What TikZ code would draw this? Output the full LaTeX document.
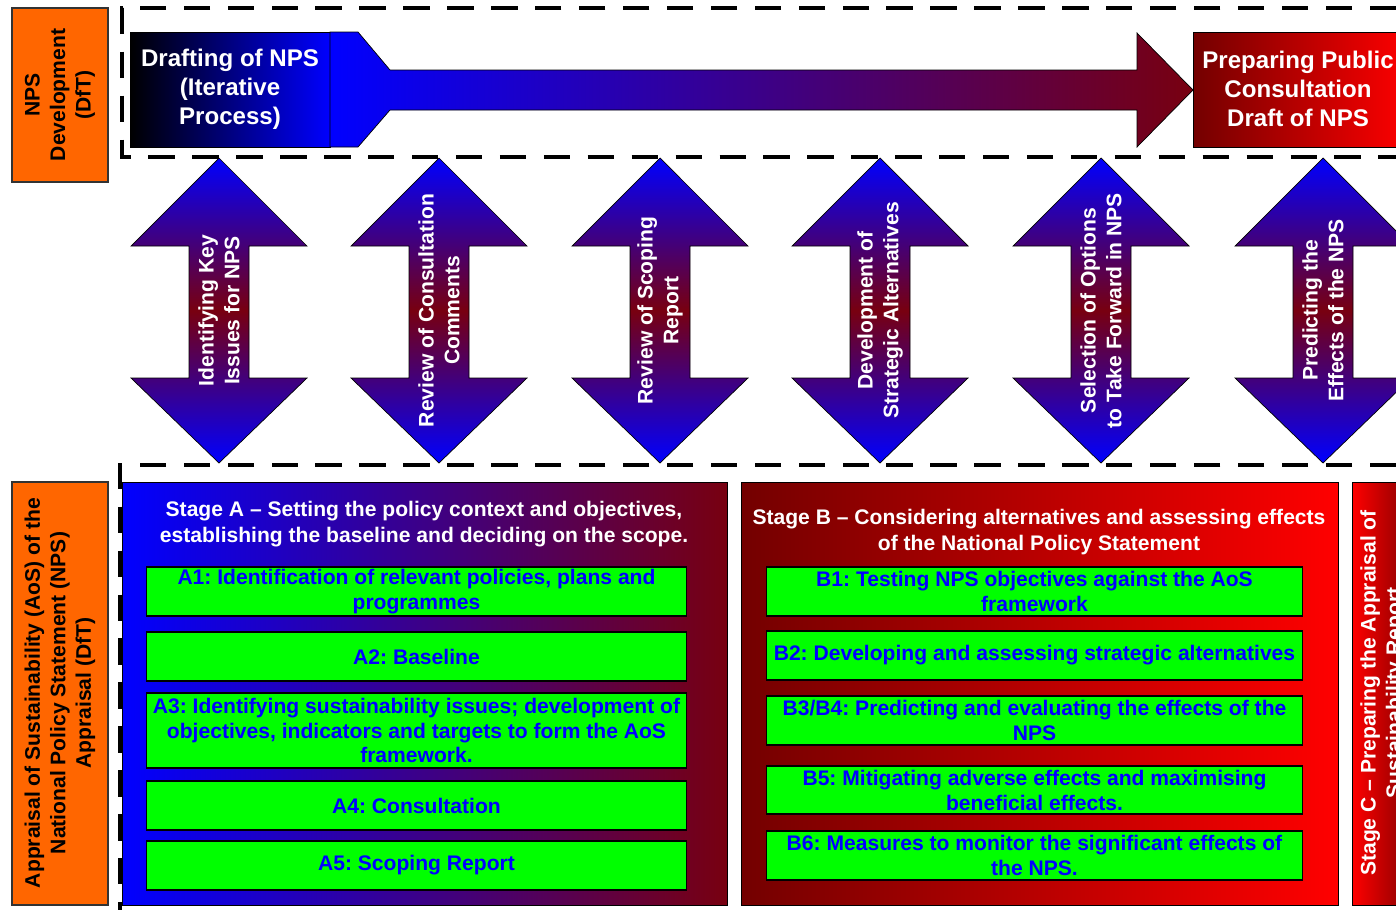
\documentclass[tikz,border=0pt]{standalone}
\usepackage{fontspec}
\setmainfont{Liberation Sans}
\usepackage{tikz}
\usetikzlibrary{positioning}
\frenchspacing
\definecolor{npsorange}{RGB}{255,102,0}
\definecolor{npsgreen}{RGB}{0,255,0}
\definecolor{npsblue}{RGB}{0,0,255}
\definecolor{npsmaroon}{RGB}{120,0,16}
\definecolor{npsdark}{RGB}{115,0,0}
\definecolor{npsred}{RGB}{255,0,0}
\tikzset{
  sidebox/.style={draw=black!80, fill=npsorange, semithick},
  sidetext/.style={rotate=90, align=center, font=\bfseries\fontsize{12}{14.5}\selectfont},
  frame/.style={draw, line width=2pt, dash pattern=on 15pt off 10pt},
  updown/.style={draw, thin, top color=npsblue, bottom color=npsblue, middle color=npsmaroon},
  arrowtext/.style={rotate=90, align=center, text=white, font=\bfseries\fontsize{12}{14.7}\selectfont},
  headtext/.style={align=center, text=white, font=\bfseries\fontsize{13.7}{16.5}\selectfont},
  stagetitle/.style={align=center, text=white, font=\bfseries\fontsize{12}{14.5}\selectfont},
  task/.style={draw, semithick, fill=npsgreen, align=center, text=npsblue, inner sep=0pt,
               font=\bfseries\fontsize{12}{14.2}\selectfont},
}

\begin{document}
\begin{tikzpicture}[x=0.02cm, y=-0.02cm]
  \useasboundingbox (0,0) rectangle (1396,910);
  \clip (0,0) rectangle (1396,910);

  % side labels
  \draw[sidebox] (12,8) rectangle (108,182);
  \node[sidetext] (dev) at (60,95) {NPS\\Development\\(DfT)};
  \draw[sidebox] (12,482) rectangle (108,905);
  \node[sidetext] (aos) at (60,693) {Appraisal of Sustainability (AoS) of the\\National Policy Statement (NPS)\\Appraisal (DfT)};

  % drafting arrow
  \draw[thin, left color=black, right color=npsblue] (130,32) rectangle (330,147);
  \draw[thin, left color=npsblue, right color=npsmaroon] (330,32) -- (358,32) -- (390,70) -- (1137,70)
    -- (1137,33) -- (1193,90) -- (1137,147) -- (1137,110) -- (390,110) -- (358,147) -- (330,147) -- cycle;
  \node[headtext] (draft) at (230,89) {Drafting of NPS\\(Iterative\\Process)};
  \draw[thin, left color=npsdark, right color=npsred] (1193,32) rectangle (1410,147);
  \node[headtext] (pcd) at (1298,89) {Preparing Public\\Consultation\\Draft of NPS};

  % links between the two processes
  \foreach \x/\txt [count=\i] in {219/{Identifying Key\\Issues for NPS},
      439/{Review of Consultation\\Comments}, 660/{Review of Scoping\\Report},
      880/{Development of\\Strategic Alternatives}, 1101/{Selection of Options\\to Take Forward in NPS},
      1323/{Predicting the\\Effects of the NPS}} {
    \draw[updown] (\x,158) -- (\x+88,246) -- (\x+30,246) -- (\x+30,378) -- (\x+88,378) -- (\x,463)
      -- (\x-88,378) -- (\x-30,378) -- (\x-30,246) -- (\x-88,246) -- cycle;
    \node[arrowtext] (link\i) at (\x,310.5) {\txt};
  }

  % stages
  \draw[thin, left color=npsblue, right color=npsmaroon] (122,482) rectangle (727,905);
  \node[stagetitle] (stageA) at (424,524) {Stage A – Setting the policy context and objectives,\\establishing the baseline and deciding on the scope.};
  \draw[thin, left color=npsdark, right color=npsred] (741,482) rectangle (1338,905);
  \node[stagetitle] (stageB) at (1039,532) {Stage B – Considering alternatives and assessing effects\\of the National Policy Statement};
  \draw[thin, left color=npsred, right color=npsdark] (1352,482) rectangle (1420,905);
  \node[stagetitle, rotate=90] (stageC) at (1383,693) {Stage C – Preparing the Appraisal of\\Sustainability Report};

  \foreach \yt/\yb/\txt [count=\i] in {567/616/{A1: Identification of relevant policies, plans and\\programmes},
      632/681/{A2: Baseline},
      693/768/{A3: Identifying sustainability issues; development of\\objectives, indicators and targets to form the AoS\\framework.},
      781/830/{A4: Consultation}, 841/890/{A5: Scoping Report}} {
    \node[task, minimum width=10.82cm, minimum height={(\yb-\yt)*0.02cm}] (a\i) at (416.5,{(\yt+\yb)/2}) {\txt};
  }
  \foreach \yt/\yb/\txt [count=\i] in {567/616/{B1: Testing NPS objectives against the AoS\\framework},
      631/680/{B2: Developing and assessing strategic alternatives},
      696/745/{B3/B4: Predicting and evaluating the effects of the\\NPS},
      766/814/{B5: Mitigating adverse effects and maximising\\beneficial effects.},
      831/880/{B6: Measures to monitor the significant effects of\\the NPS.}} {
    \node[task, minimum width=10.74cm, minimum height={(\yb-\yt)*0.02cm}] (b\i) at (1034.5,{(\yt+\yb)/2}) {\txt};
  }

  % dashed frames
  \draw[frame] (1396,8) -- (122,8) -- (122,157) -- (1396,157);
  \draw[frame] (1396,465) -- (120,465) -- (120,910);
\end{tikzpicture}
\end{document}
